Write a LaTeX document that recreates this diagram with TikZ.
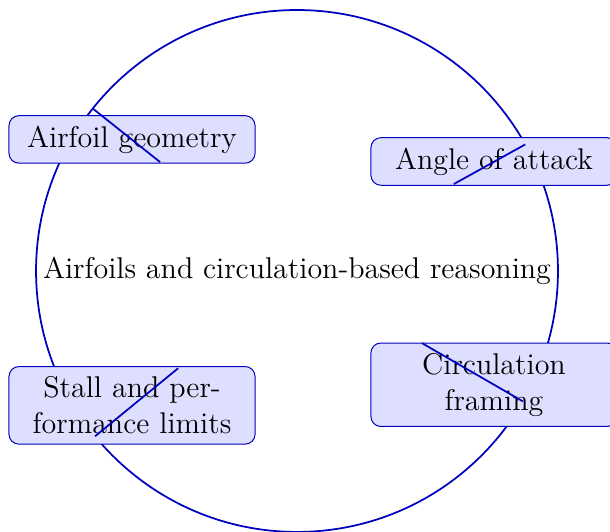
\documentclass[12pt,tikz,border=0pt]{standalone}
\usetikzlibrary{positioning,calc}
\tikzset{
  topic/.style={draw=blue!75!black,fill=blue!13,rounded corners,
                text width=3.18cm,align=center},
  ring/.style={draw=blue!75!black,line width=.7pt},
  spoke/.style={draw=blue!75!black,line width=.7pt},
}
\begin{document}
\begin{tikzpicture}
  \useasboundingbox (-4.177,-3.657) rectangle (4.402,3.811);
  \node (hub) at (0,0) {Airfoils and circulation-based reasoning};
  \draw[ring] (hub.center) circle (3.67cm);
  \node[topic] (geom) at (-2.32,1.85)  {Airfoil geometry};
  \node[topic] (aoa)  at (2.77,1.54)   {Angle of attack};
  \node[topic] (stall) at (-2.32,-1.89) {Stall and performance limits};
  \node[topic] (circ) at (2.77,-1.60)  {Circulation framing};
  % radial ticks
  \coordinate (g1) at (141.5:3.67); \coordinate (g2) at (141.5:2.46);
  \coordinate (a1) at (29:3.67);    \coordinate (a2) at (29:2.52);
  \coordinate (s1) at (219.3:3.67); \coordinate (s2) at (219.3:2.16);
  \coordinate (c1) at (330:3.67);   \coordinate (c2) at (330:2.03);
  \draw[spoke] (g1) -- (g2);
  \draw[spoke] (a1) -- (a2);
  \draw[spoke] (s1) -- (s2);
  \draw[spoke] (c1) -- (c2);
\end{tikzpicture}
\end{document}
